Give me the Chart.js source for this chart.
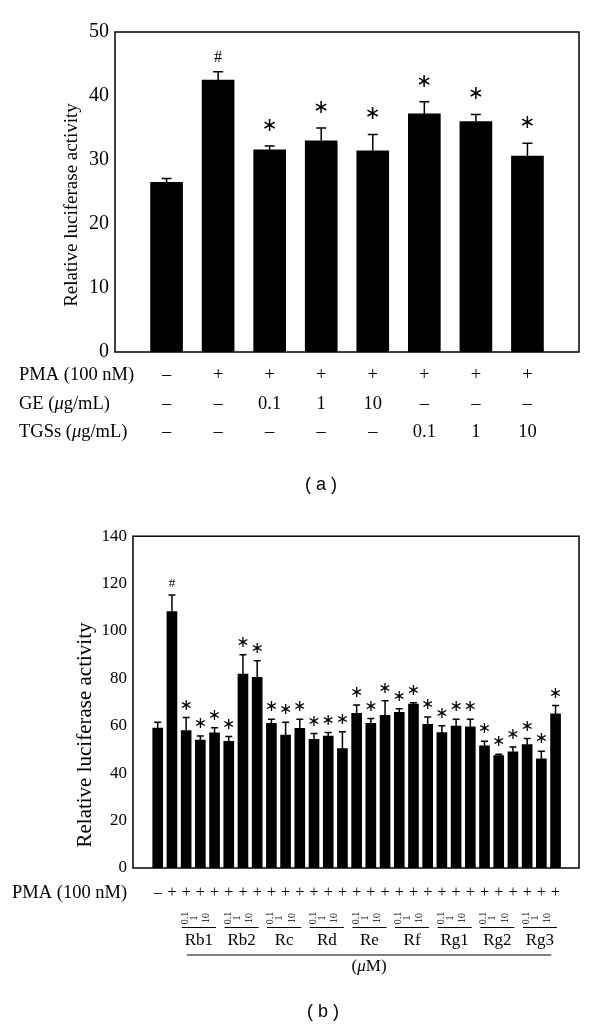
<!DOCTYPE html>
<html><head><meta charset="utf-8">
<script src="https://cdn.jsdelivr.net/npm/chart.js@4.4.1/dist/chart.umd.min.js"></script>
<style>
html,body{margin:0;padding:0;background:#fff;}
#wa{position:absolute;left:0;top:0;width:600px;height:520px;}
#wb{position:absolute;left:0;top:520px;width:600px;height:508px;}
</style></head><body>
<div id="wa"><canvas id="ca"></canvas></div>
<div id="wb"><canvas id="cb"></canvas></div>
<script>
// ---------- Panel (a) data ----------
const valuesA = [26.5, 42.5, 31.6, 33.0, 31.45, 37.2, 36.0, 30.6];
const errorsA = [0.6, 1.3, 0.6, 2.0, 2.55, 1.9, 1.1, 2.0];
const marksA  = ['', '#', '*', '*', '*', '*', '*', '*'];
const pmaA    = ['–', '+', '+', '+', '+', '+', '+', '+'];
const geA     = ['–', '–', '0.1', '1', '10', '–', '–', '–'];
const tgssA   = ['–', '–', '–', '–', '–', '0.1', '1', '10'];
const yTicksA = [0, 10, 20, 30, 40, 50];

// ---------- Panel (b) data ----------
const valuesB = [59, 108.2, 58, 54, 57, 53.5, 81.8, 80.5, 61, 56.1, 58.9, 54.3, 55.7, 50.4,
                 65.3, 61, 64.4, 65.7, 69.2, 60.6, 57.1, 59.9, 59.6, 51.5, 47.4, 49, 52.1, 46.1, 65.1];
const errorsB = [2.5, 7, 5.5, 1.7, 2.2, 2, 8.2, 6.9, 1.8, 5.4, 3.9, 2.4, 1.5, 7.1,
                 3.5, 2.1, 6.2, 1.5, 0.5, 3.1, 2.9, 2.9, 3.2, 2, 0.6, 2.1, 2.5, 3.2, 3.5];
const marksB  = ['', '#', '*', '*', '*', '*', '*', '*', '*', '*', '*', '*', '*', '*', '*',
                 '*', '*', '*', '*', '*', '*', '*', '*', '*', '*', '*', '*', '*', '*'];
const pmaB    = ['–', '+', '+', '+', '+', '+', '+', '+', '+', '+', '+', '+', '+', '+', '+',
                 '+', '+', '+', '+', '+', '+', '+', '+', '+', '+', '+', '+', '+', '+'];
const compoundsB = ['Rb1', 'Rb2', 'Rc', 'Rd', 'Re', 'Rf', 'Rg1', 'Rg2', 'Rg3'];
const dosesB  = ['0.1', '1', '10'];
const yTicksB = [0, 20, 40, 60, 80, 100, 120, 140];

const SERIF = "'Liberation Serif', 'Times New Roman', serif";
const SANS = "'Liberation Sans', Arial, sans-serif";
const TITLE = 'Relative luciferase activity';

function drawMixed(ctx, parts, x, y, size) {
  let cx = x;
  parts.forEach(([t, it]) => {
    ctx.font = (it ? 'italic ' : '') + size + 'px ' + SERIF;
    ctx.fillText(t, cx, y);
    cx += ctx.measureText(t).width;
  });
}

function errorsAndMarks(ctx, chart, values, errors, marks, cap, starSize, starGap, hashSize, hashGap) {
  const xs = chart.scales.x, ys = chart.scales.y;
  ctx.strokeStyle = '#000';
  ctx.lineWidth = 1.5;
  values.forEach((v, i) => {
    const px = xs.getPixelForValue(i + 1);
    const y0 = ys.getPixelForValue(v);
    const y1 = ys.getPixelForValue(v + errors[i]);
    ctx.beginPath();
    ctx.moveTo(px, y0); ctx.lineTo(px, y1);
    ctx.moveTo(px - cap, y1); ctx.lineTo(px + cap, y1);
    ctx.stroke();
    if (marks[i]) {
      ctx.fillStyle = '#000';
      ctx.textAlign = 'center';
      ctx.textBaseline = 'middle';
      if (marks[i] === '#') {
        ctx.font = hashSize + 'px ' + SERIF;
        ctx.fillText('#', px, y1 - hashGap);
      } else {
        ctx.font = starSize + 'px ' + "'DejaVu Sans'";
        ctx.fillText('∗', px, y1 - starGap);
      }
    }
  });
}

function frame(ctx, ca) {
  ctx.strokeStyle = '#000';
  ctx.lineWidth = 1.5;
  ctx.strokeRect(ca.left, ca.top, ca.right - ca.left, ca.bottom - ca.top);
}

const annotA = {
  id: 'annotA',
  afterDatasetsDraw(chart) {
    const ctx = chart.ctx, ca = chart.chartArea, xs = chart.scales.x;
    ctx.save();
    frame(ctx, ca);
    errorsAndMarks(ctx, chart, valuesA, errorsA, marksA, 5, 19, 20, 16, 14);
    ctx.save();
    ctx.translate(72, 205);
    ctx.rotate(-Math.PI / 2);
    ctx.font = '19px ' + SERIF;
    ctx.textAlign = 'center'; ctx.textBaseline = 'middle'; ctx.fillStyle = '#000';
    ctx.fillText(TITLE, 0, 0);
    ctx.restore();
    ctx.fillStyle = '#000';
    ctx.textBaseline = 'middle';
    ctx.textAlign = 'left';
    const rows = [[pmaA, 375, [['PMA (100 nM)', false]]],
                  [geA, 404, [['GE (', false], ['μ', true], ['g/mL)', false]]],
                  [tgssA, 432, [['TGSs (', false], ['μ', true], ['g/mL)', false]]]];
    rows.forEach(([arr, yy, parts]) => {
      ctx.textAlign = 'left';
      drawMixed(ctx, parts, 19, yy, 18.5);
      ctx.textAlign = 'center';
      ctx.font = '18.5px ' + SERIF;
      arr.forEach((s, i) => ctx.fillText(s, xs.getPixelForValue(i + 1), yy));
    });
    ctx.font = '18px ' + SANS;
    ctx.textAlign = 'center';
    ctx.fillText('( a )', 321, 485);
    ctx.restore();
  }
};

const annotB = {
  id: 'annotB',
  afterDatasetsDraw(chart) {
    const ctx = chart.ctx, ca = chart.chartArea, xs = chart.scales.x;
    ctx.save();
    frame(ctx, ca);
    errorsAndMarks(ctx, chart, valuesB, errorsB, marksB, 3.5, 16, 12, 13, 11);
    ctx.save();
    ctx.translate(85, 215);
    ctx.rotate(-Math.PI / 2);
    ctx.font = '21px ' + SERIF;
    ctx.textAlign = 'center'; ctx.textBaseline = 'middle'; ctx.fillStyle = '#000';
    ctx.fillText(TITLE, 0, 0);
    ctx.restore();
    ctx.fillStyle = '#000';
    ctx.strokeStyle = '#000';
    ctx.textBaseline = 'middle';
    ctx.textAlign = 'left';
    drawMixed(ctx, [['PMA (100 nM)', false]], 12, 373, 18.5);
    ctx.font = '16px ' + SERIF;
    ctx.textAlign = 'center';
    pmaB.forEach((s, i) => ctx.fillText(s, xs.getPixelForValue(i + 1), 373));
    const doseOff = [-1.05, -0.42, 0.45];
    compoundsB.forEach((c, g) => {
      const mid = 4 + 3 * g;
      dosesB.forEach((d, k) => {
        ctx.save();
        ctx.translate(xs.getPixelForValue(mid + doseOff[k]), 398);
        ctx.rotate(-Math.PI / 2);
        ctx.font = '10px ' + SERIF;
        ctx.textAlign = 'center'; ctx.textBaseline = 'middle';
        ctx.fillText(d, 0, 0);
        ctx.restore();
      });
      ctx.lineWidth = 1.2;
      ctx.beginPath();
      ctx.moveTo(xs.getPixelForValue(mid - 1.3), 407.5);
      ctx.lineTo(xs.getPixelForValue(mid + 1.1), 407.5);
      ctx.stroke();
      ctx.font = '17px ' + SERIF;
      ctx.textAlign = 'center';
      ctx.fillText(c, xs.getPixelForValue(mid - 0.1), 421);
    });
    const x0 = xs.getPixelForValue(3.05), x1 = xs.getPixelForValue(28.7);
    ctx.beginPath();
    ctx.moveTo(x0, 435); ctx.lineTo(x1, 435); ctx.stroke();
    ctx.textAlign = 'left';
    ctx.font = '17px ' + SERIF;
    const w1 = ctx.measureText('(').width;
    ctx.font = 'italic 17px ' + SERIF;
    const w2 = ctx.measureText('μ').width;
    ctx.font = '17px ' + SERIF;
    const w3 = ctx.measureText('M)').width;
    drawMixed(ctx, [['(', false], ['μ', true], ['M)', false]], (x0 + x1) / 2 - (w1 + w2 + w3) / 2, 447, 17);
    ctx.font = '18px ' + SANS;
    ctx.textAlign = 'center';
    ctx.fillText('( b )', 323, 492);
    ctx.restore();
  }
};

function makeChart(id, values, yMax, yStep, xMin, xMax, barW, padding, yWidth, tickSize) {
  return new Chart(document.getElementById(id), {
    type: 'bar',
    data: {
      datasets: [{
        data: values.map((v, i) => ({ x: i + 1, y: v })),
        backgroundColor: '#000',
        borderColor: '#000',
        borderWidth: 0,
        barThickness: barW
      }]
    },
    options: {
      responsive: true,
      maintainAspectRatio: false,
      animation: false,
      layout: { padding: padding },
      plugins: { legend: { display: false }, tooltip: { enabled: false } },
      scales: {
        x: { type: 'linear', min: xMin, max: xMax, offset: false, display: false },
        y: {
          min: 0, max: yMax,
          border: { display: false },
          grid: { display: false, drawTicks: false },
          ticks: { stepSize: yStep, padding: 6, color: '#000', font: { family: SERIF, size: tickSize } },
          afterFit(scale) { scale.width = yWidth; }
        }
      }
    },
    plugins: [id === 'ca' ? annotA : annotB]
  });
}

makeChart('ca', valuesA, yTicksA[yTicksA.length - 1], yTicksA[1] - yTicksA[0], 0, 9, 32,
          { top: 32, right: 21, bottom: 168, left: 0 }, 115, 20);
makeChart('cb', valuesB, yTicksB[yTicksB.length - 1], yTicksB[1] - yTicksB[0], -0.74, 30.65, 10,
          { top: 12, right: 21, bottom: 160, left: 0 }, 133, 17);
</script>
</body></html>
